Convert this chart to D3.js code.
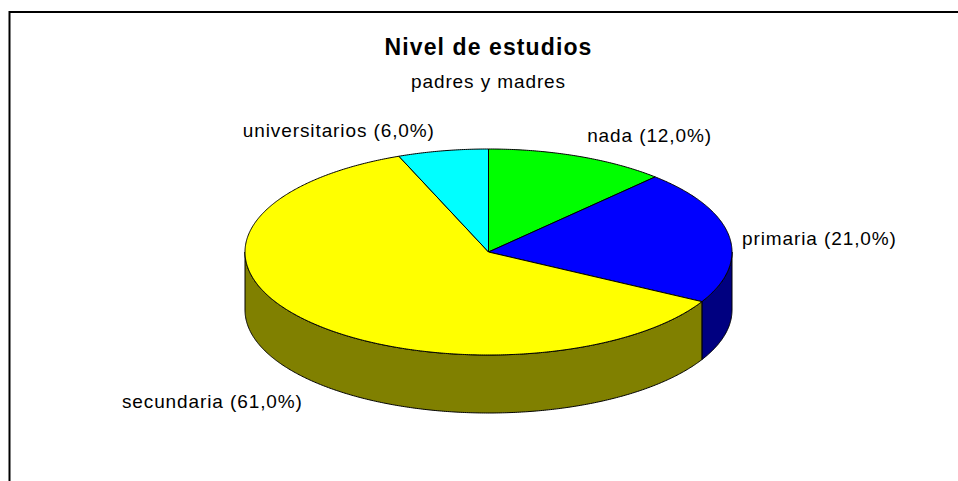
<!DOCTYPE html>
<html>
<head>
<meta charset="utf-8">
<script src="https://cdn.jsdelivr.net/npm/d3@7"></script>
<style>
  html, body { margin: 0; padding: 0; background: #fff; }
  text { font-family: "Liberation Sans", Arial, sans-serif; fill: #000; }
</style>
</head>
<body>
<div id="chart"></div>
<script>
const categories = ["nada", "primaria", "secundaria", "universitarios"];
const values = [12, 21, 61, 6];
const labels = ["nada (12,0%)", "primaria (21,0%)", "secundaria (61,0%)", "universitarios (6,0%)"];
const topColors = ["#00ff00", "#0000ff", "#ffff00", "#00ffff"];
const sideColors = ["#008000", "#000080", "#808000", "#008080"];
const title = "Nivel de estudios";
const subtitle = "padres y madres";

const width = 958;
const height = 481;

// ellipse of the pie top, and its thickness
const cx = 488.5, cy = 252, rx = 243.5, ry = 103, depth = 58;

const svg = d3.select('#chart')
  .append('svg')
  .attr('width', width)
  .attr('height', height);

// chart area frame (only top and left fit in the window)
svg.append('rect')
  .attr('x', 9.5)
  .attr('y', 12)
  .attr('width', 2000)
  .attr('height', 2000)
  .attr('fill', 'none')
  .attr('stroke', '#000')
  .attr('stroke-width', 2);

svg.append('text')
  .attr('x', cx)
  .attr('y', 55)
  .attr('text-anchor', 'middle')
  .style('font-size', '23px')
  .style('font-weight', 'bold')
  .style('letter-spacing', '1.1px')
  .text(title);

svg.append('text')
  .attr('x', cx)
  .attr('y', 88)
  .attr('text-anchor', 'middle')
  .style('font-size', '19px')
  .style('letter-spacing', '0.9px')
  .text(subtitle);

const pie = d3.pie().sort(null).value(d => d);
const arcs = pie(values);

const color = d3.scaleOrdinal().domain(categories).range(topColors);
const sideColor = d3.scaleOrdinal().domain(categories).range(sideColors);

// angle from 12 o'clock, clockwise
function pt(a, dy = 0) {
  return [cx + rx * Math.sin(a), cy - ry * Math.cos(a) + dy];
}

function arcPoints(a0, a1, dy = 0) {
  const n = Math.max(2, Math.ceil(Math.abs(a1 - a0) / (Math.PI / 360)));
  return d3.range(n + 1).map(i => pt(a0 + (a1 - a0) * i / n, dy));
}

const line = d3.line();

// outer walls, only the front half (between 90 and 270 degrees) shows
const walls = svg.append('g');
arcs.forEach((d, i) => {
  const a0 = Math.max(d.startAngle, Math.PI / 2);
  const a1 = Math.min(d.endAngle, 3 * Math.PI / 2);
  if (a1 <= a0) return;
  const pts = arcPoints(a0, a1).concat(arcPoints(a1, a0, depth));
  walls.append('path')
    .attr('d', line(pts) + 'Z')
    .attr('fill', sideColor(categories[i]))
    .attr('stroke', '#000')
    .attr('stroke-width', 1)
    .attr('stroke-linejoin', 'round');
});

// top faces
const tops = svg.append('g');
arcs.forEach((d, i) => {
  const pts = [[cx, cy]].concat(arcPoints(d.startAngle, d.endAngle));
  tops.append('path')
    .attr('d', line(pts) + 'Z')
    .attr('fill', color(categories[i]))
    .attr('stroke', '#000')
    .attr('stroke-width', 1)
    .attr('stroke-linejoin', 'round');
});

// data labels, placed outside the rim at each slice's middle angle
const labelShift = [[9, -14], [13, 9], [-3, 30], [-8, -14]];
arcs.forEach((d, i) => {
  const mid = (d.startAngle + d.endAngle) / 2;
  const front = Math.cos(mid) < 0;
  const [x, y] = pt(mid, front && Math.abs(Math.sin(mid)) < 0.9 ? depth : 0);
  svg.append('text')
    .attr('x', x + labelShift[i][0])
    .attr('y', y + labelShift[i][1])
    .attr('text-anchor', Math.sin(mid) >= 0 ? 'start' : 'end')
    .style('font-size', '19px')
    .style('letter-spacing', '0.9px')
    .text(labels[i]);
});
</script>
</body>
</html>
